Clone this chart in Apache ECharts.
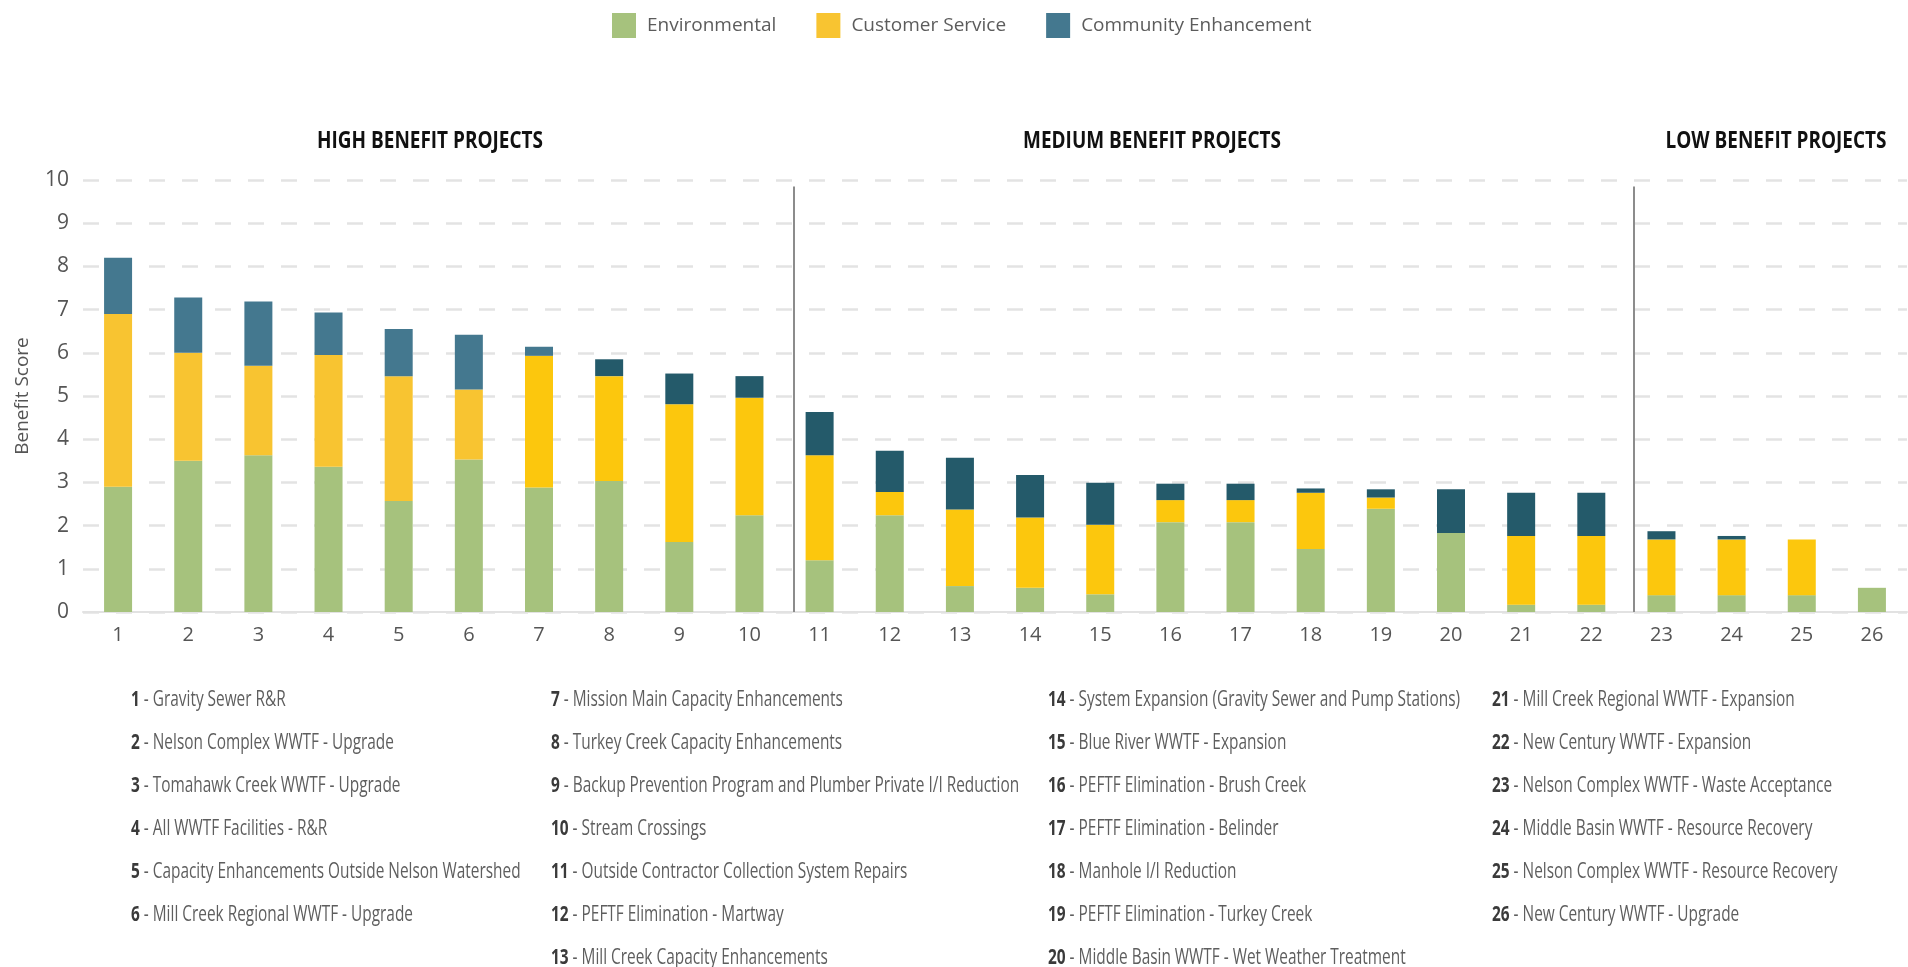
<!DOCTYPE html>
<html>
<head>
<meta charset="utf-8">
<title>Benefit Score by Project</title>
<script src="https://cdn.jsdelivr.net/npm/echarts@6/dist/echarts.min.js"></script>
<style>
  html, body { margin: 0; padding: 0; background: #fff; }
  #chart { width: 1908px; height: 967px; }
</style>
</head>
<body>
<div id="chart"></div>
<script>
// project numbers on the x axis
const projects = ['1','2','3','4','5','6','7','8','9','10','11','12','13','14','15','16','17','18','19','20','21','22','23','24','25','26']

// benefit score components per project
const environmental = [2.9, 3.5, 3.63, 3.36, 2.57, 3.53, 2.88, 3.03, 1.62, 2.24, 1.2, 2.24, 0.6, 0.56, 0.41, 2.08, 2.08, 1.46, 2.39, 1.83, 0.17, 0.17, 0.39, 0.39, 0.39, 0.56]
const customerService = [4.0, 2.5, 2.07, 2.59, 2.89, 1.62, 3.05, 2.43, 3.19, 2.72, 2.43, 0.54, 1.77, 1.63, 1.61, 0.51, 0.51, 1.3, 0.26, 0, 1.59, 1.59, 1.29, 1.29, 1.29, 0]
const communityEnhancement = [1.3, 1.28, 1.49, 0.98, 1.09, 1.27, 0.21, 0.39, 0.71, 0.5, 1.0, 0.95, 1.2, 0.98, 0.97, 0.38, 0.38, 0.1, 0.19, 1.01, 1.0, 1.0, 0.19, 0.08, 0, 0]

const projectNames = [
  'Gravity Sewer R&R',
  'Nelson Complex WWTF - Upgrade',
  'Tomahawk Creek WWTF - Upgrade',
  'All WWTF Facilities - R&R',
  'Capacity Enhancements Outside Nelson Watershed',
  'Mill Creek Regional WWTF - Upgrade',
  'Mission Main Capacity Enhancements',
  'Turkey Creek Capacity Enhancements',
  'Backup Prevention Program and Plumber Private I/I Reduction',
  'Stream Crossings',
  'Outside Contractor Collection System Repairs',
  'PEFTF Elimination - Martway',
  'Mill Creek Capacity Enhancements',
  'System Expansion (Gravity Sewer and Pump Stations)',
  'Blue River WWTF - Expansion',
  'PEFTF Elimination - Brush Creek',
  'PEFTF Elimination - Belinder',
  'Manhole I/I Reduction',
  'PEFTF Elimination - Turkey Creek',
  'Middle Basin WWTF - Wet Weather Treatment',
  'Mill Creek Regional WWTF - Expansion',
  'New Century WWTF - Expansion',
  'Nelson Complex WWTF - Waste Acceptance',
  'Middle Basin WWTF - Resource Recovery',
  'Nelson Complex WWTF - Resource Recovery',
  'New Century WWTF - Upgrade'
]

// group boundaries (just after project 10 and 22) and group labels
const groupBreaks = [10.13, 22.1]
const groupLabels = ['HIGH BENEFIT PROJECTS', 'MEDIUM BENEFIT PROJECTS', 'LOW BENEFIT PROJECTS']
const yTicks = [0, 1, 2, 3, 4, 5, 6, 7, 8, 9, 10]

const FONT = '"Open Sans", Roboto, sans-serif'

const chart = echarts.init(document.getElementById('chart'))

// footer: project names listed in 4 columns
// (the original uses a condensed face, so free text is squeezed horizontally)
const columns = [[0, 6], [6, 13], [13, 20], [20, 26]]
const columnLeft = [131, 551, 1048, 1492]
const footerText = columns.map(([a, b], i) => ({
  type: 'text',
  x: columnLeft[i],
  y: 678,
  scaleX: 0.7,
  silent: true,
  style: {
    text: projectNames.slice(a, b).map((name, k) => `{n|${a + k + 1}} - ${name}`).join('\n'),
    fontFamily: FONT,
    fontSize: 22,
    fill: '#5e5e5e',
    lineHeight: 43,
    align: 'left',
    verticalAlign: 'top',
    rich: {
      n: { fontFamily: FONT, fontSize: 22, fontWeight: 'bold', fill: '#3a3a3a', lineHeight: 43 }
    }
  }
}))

const groupText = groupLabels.map((label, i) => ({
  type: 'text',
  x: [430, 1152, 1776][i],
  y: 141,
  scaleX: 0.79,
  silent: true,
  style: {
    text: label,
    fontFamily: FONT,
    fontSize: 24,
    fontWeight: 'bold',
    fill: '#111',
    align: 'center',
    verticalAlign: 'middle'
  }
}))

const ceColor = (p) => (p.dataIndex < 7 ? '#44788f' : '#245a6a')
const csColor = (p) => (p.dataIndex < 6 ? '#f8c431' : '#fcc70d')

const option = {
  animation: false,
  graphic: [...groupText, ...footerText],
  legend: {
    top: 8,
    left: 607,
    icon: 'rect',
    itemWidth: 24,
    itemHeight: 25,
    itemGap: 40,
    textStyle: { fontFamily: FONT, fontSize: 19, color: '#5c5c5c', padding: [0, 0, 0, 6] },
    data: [
      { name: 'Environmental', itemStyle: { color: '#a6c27d' } },
      { name: 'Customer Service', itemStyle: { color: '#f8c431' } },
      { name: 'Community Enhancement', itemStyle: { color: '#44788f' } }
    ]
  },
  grid: { left: 83, right: 1, top: 180, bottom: 355 },
  xAxis: [
    {
      type: 'category',
      data: projects,
      axisLine: { lineStyle: { color: '#e2e2e2', width: 2 } },
      axisTick: { show: false },
      axisLabel: { fontFamily: FONT, fontSize: 20, color: '#555', margin: 13 }
    },
    { type: 'value', min: 0, max: projects.length, show: false }
  ],
  yAxis: {
    type: 'value',
    min: yTicks[0],
    max: yTicks[yTicks.length - 1],
    interval: 1,
    name: 'Benefit Score',
    nameLocation: 'middle',
    nameGap: 51,
    nameTextStyle: { fontFamily: FONT, fontSize: 19, color: '#555' },
    axisLine: { show: false },
    axisTick: { show: false },
    axisLabel: { fontFamily: FONT, fontSize: 21, color: '#555', margin: 14 },
    splitLine: { lineStyle: { color: '#e3e3e3', width: 2.5, type: [16, 17] } }
  },
  series: [
    {
      name: 'Environmental', type: 'bar', stack: 'score', barWidth: 28,
      itemStyle: { color: '#a6c27d' }, data: environmental
    },
    {
      name: 'Customer Service', type: 'bar', stack: 'score', barWidth: 28,
      itemStyle: { color: csColor }, data: customerService
    },
    {
      name: 'Community Enhancement', type: 'bar', stack: 'score', barWidth: 28,
      itemStyle: { color: ceColor }, data: communityEnhancement
    },
    {
      // group dividers
      name: 'dividers', type: 'line', xAxisIndex: 1, data: [],
      markLine: {
        silent: true,
        symbol: 'none',
        label: { show: false },
        lineStyle: { color: '#8c8c8c', width: 2, type: 'solid' },
        data: groupBreaks.map(b => [{ coord: [b, 0] }, { coord: [b, 9.85] }])
      }
    }
  ]
}

chart.setOption(option)
</script>
</body>
</html>
